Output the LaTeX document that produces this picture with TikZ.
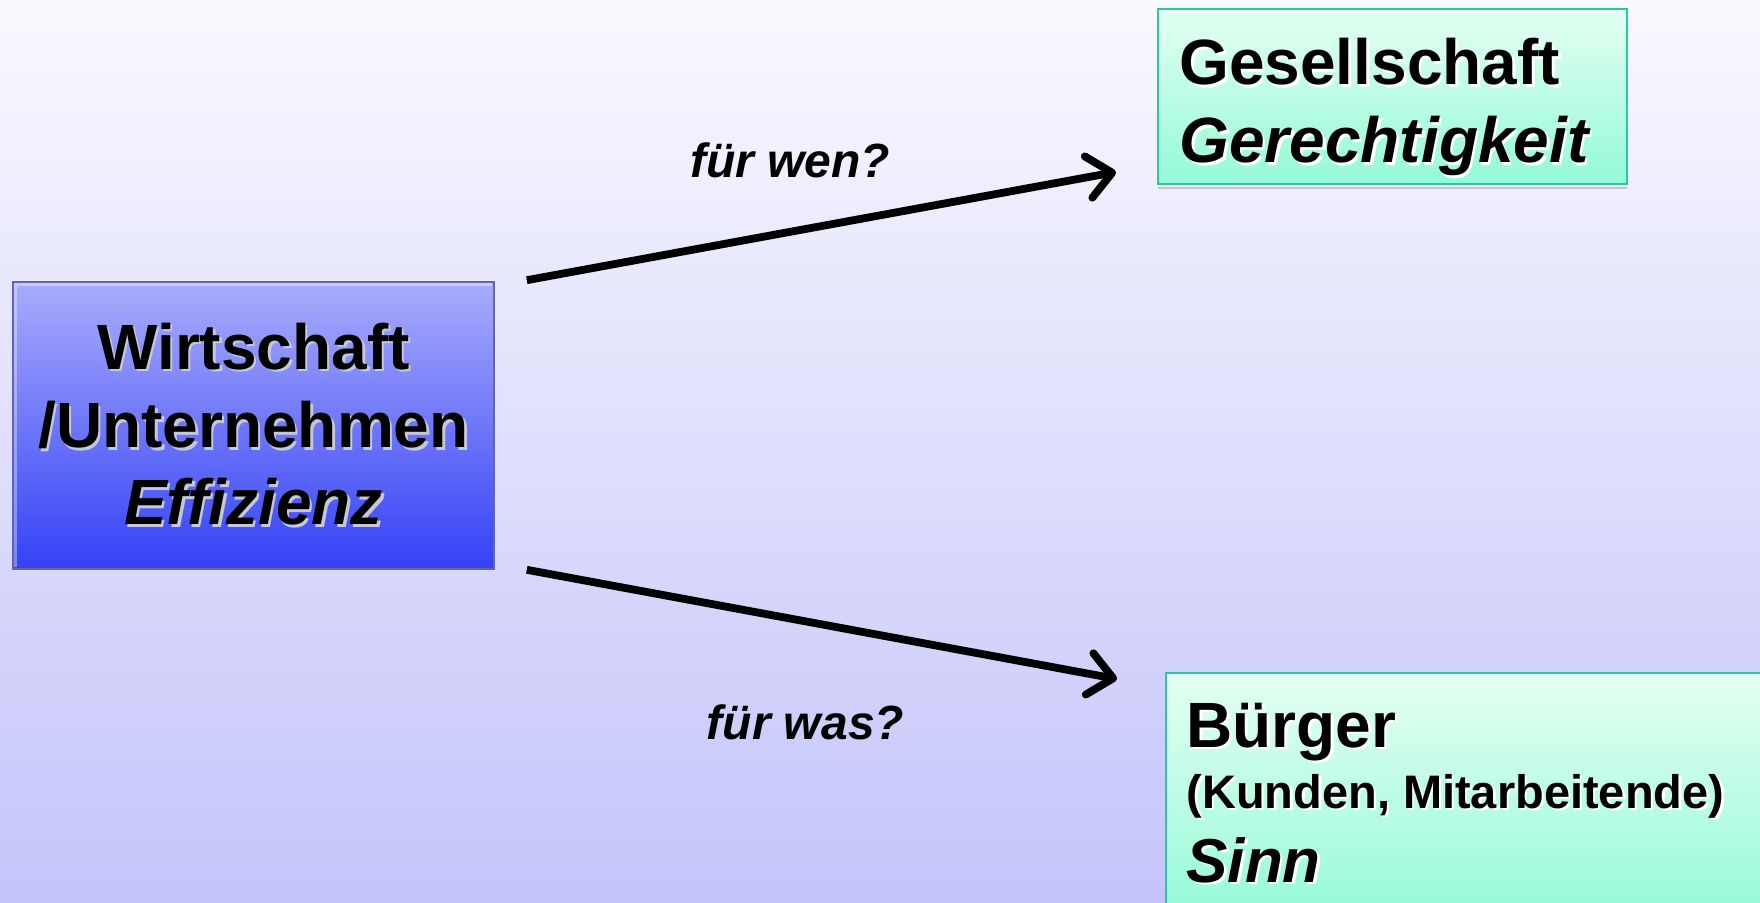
\documentclass[tikz,border=0pt]{standalone}
\usepackage{fontspec}
\setmainfont{Liberation Sans}
\usetikzlibrary{arrows.meta}
\definecolor{bgtop}{RGB}{249,249,255}
\definecolor{bgbot}{RGB}{196,196,250}
\definecolor{bluetop}{RGB}{168,172,252}
\definecolor{bluebot}{RGB}{52,66,246}
\definecolor{blueedge}{RGB}{100,100,170}
\definecolor{greentop}{RGB}{228,255,242}
\definecolor{greenbot}{RGB}{148,250,215}
\definecolor{greenedge}{RGB}{40,200,160}
\definecolor{shgray}{RGB}{200,200,212}
\newcommand{\shd}[2]{\leavevmode\rlap{\kern1.3pt\raisebox{-1.3pt}{\textcolor{#1}{#2}}}#2}
\begin{document}
\begin{tikzpicture}[x=0.5pt,y=-0.5pt,
  every node/.style={inner sep=0pt},
  bluebox/.style={draw=blueedge, line width=0.8pt, top color=bluetop, bottom color=bluebot,
    align=center, font=\fontsize{32pt}{38.5pt}\selectfont\bfseries},
  greenbox/.style={draw=greenedge, line width=1pt, top color=greentop, bottom color=greenbot},
  boxtext/.style={anchor=west, align=left, font=\fontsize{32pt}{39pt}\selectfont\bfseries},
  conn/.style={line width=3.9pt, -{Straight Barb[length=12pt,width=21pt,round]}},
  lbl/.style={font=\fontsize{24pt}{28pt}\selectfont\bfseries\itshape}]
\useasboundingbox (0,0) rectangle (1760,903);
\clip (0,0) rectangle (1760,903);
\fill[top color=bgtop, bottom color=bgbot] (0,0) rectangle (1760,903);

\node[bluebox, minimum width=240.5pt, minimum height=143.5pt] (wirt) at (253.5,425.5)
  {\shd{shgray}{Wirtschaft}\\[0.8pt]\shd{shgray}{/Unternehmen}\\\shd{shgray}{\textit{Effizienz}}};
\draw[white, opacity=0.35, line width=1.5pt] ([shift={(3,-3)}]wirt.south west) -- ([shift={(3,3)}]wirt.north west) -- ([shift={(-3,3)}]wirt.north east);

\draw[gray!45, line width=1pt] ([shift={(0,4)}]1158,184) -- (1627,188);
\node[greenbox, minimum width=234.5pt, minimum height=87.5pt] (ges) at (1392.5,96.5) {};
\node[boxtext] (gestext) at ([shift={(22,12)}]ges.west)
  {\shd{white}{Gesellschaft}\\\shd{white}{\textit{Gerechtigkeit}}};

\node[greenbox, anchor=north west, minimum width=317.5pt, minimum height=124pt] (buerg) at (1165,672) {};
\node[boxtext] (buergtext) at ([shift={(21,122)}]buerg.north west)
  {\shd{white}{Bürger}\\[-8.5pt]
   {\fontsize{23.5pt}{28pt}\selectfont\shd{white}{(Kunden, Mitarbeitende)}}\\[-2pt]
   {\fontsize{31pt}{36pt}\selectfont\shd{white}{\textit{Sinn}}}};

\draw[conn] ([shift={(32,-1)}]wirt.north east) -- node[lbl, pos=0.447, yshift=35.5pt] (lw) {für wen?} ([shift={(-41,-13)}]ges.south west);
\draw[conn] ([shift={(32,0)}]wirt.south east) -- node[lbl, pos=0.472, yshift=-50.5pt] (lv) {für was?} ([shift={(-48,7)}]buerg.north west);
\end{tikzpicture}
\end{document}
